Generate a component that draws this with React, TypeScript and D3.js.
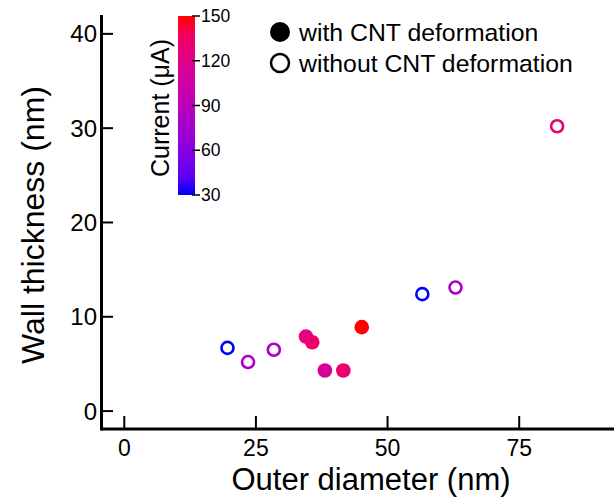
import React from 'react';
import * as d3 from 'd3';

// points with CNT deformation (filled)
const withDiameter = [34.5, 35.7, 38.1, 41.6, 45.1];
const withThickness = [7.9, 7.3, 4.3, 4.3, 8.9];
const withCurrent = [124, 133, 112, 132, 150];

// points without CNT deformation (open)
const withoutDiameter = [19.6, 23.5, 28.4, 56.6, 62.9, 82.2];
const withoutThickness = [6.7, 5.2, 6.5, 12.4, 13.1, 30.2];
const withoutCurrent = [30, 80, 80, 30, 82, 130];

const xTicks = [0, 25, 50, 75];
const yTicks = [0, 10, 20, 30, 40];
const cTicks = [30, 60, 90, 120, 150];
const legendLabels = ['with CNT deformation', 'without CNT deformation'];

const W = 614;
const H = 498;
const font = '"Liberation Sans", Arial, Helvetica, sans-serif';

const App = () => {
  const x = d3.scaleLinear().domain([-4.42, 93]).range([101, 614]);
  const y = d3.scaleLinear().domain([-1.9, 42]).range([429, 15]);
  const cy = d3.scaleLinear().domain([30, 150]).range([195, 16]);
  const color = d3
    .scaleLinear<string>()
    .domain([30, 150])
    .range(['blue', 'red'])
    .interpolate(d3.interpolateRgb.gamma(2.2));

  const withPts = withDiameter.map((d, i) => ({ d, t: withThickness[i], c: withCurrent[i] }));
  const withoutPts = withoutDiameter.map((d, i) => ({ d, t: withoutThickness[i], c: withoutCurrent[i] }));

  const stops = d3.range(0, 1.0001, 0.1);
  const [x0, x1] = x.range();
  const [y0, y1] = y.range();

  return (
    <svg
      width={W}
      height={H}
      style={{ position: 'absolute', left: 0, top: 0, background: '#fff' }}
      fontFamily={font}
    >
      <defs>
        <linearGradient id="cbar" x1="0" y1="1" x2="0" y2="0">
          {stops.map((s) => (
            <stop key={s} offset={s} stopColor={color(30 + s * 120)} />
          ))}
        </linearGradient>
      </defs>

      {/* axes */}
      <line x1={x0} x2={x1} y1={y0} y2={y0} stroke="#000" strokeWidth={3} />
      <line x1={x0 + 0.5} x2={x0 + 0.5} y1={y1} y2={y0 + 1.5} stroke="#000" strokeWidth={3} />

      {xTicks.map((t) => (
        <g key={t}>
          <line x1={x(t)} x2={x(t)} y1={y0} y2={y0 - 13} stroke="#000" strokeWidth={2} />
          <text x={x(t)} y={456} fontSize={23} textAnchor="middle">
            {t}
          </text>
        </g>
      ))}
      {yTicks.map((t) => (
        <g key={t}>
          <line x1={x0} x2={x0 + 12} y1={y(t)} y2={y(t)} stroke="#000" strokeWidth={2} />
          <text x={97} y={y(t) + 8.5} fontSize={24} textAnchor="end">
            {t}
          </text>
        </g>
      ))}

      <text x={371} y={490} fontSize={31} textAnchor="middle">
        Outer diameter (nm)
      </text>
      <text transform={`translate(44,225) rotate(-90)`} fontSize={32} textAnchor="middle">
        Wall thickness (nm)
      </text>

      {/* points */}
      {withoutPts.map((p, i) => (
        <circle key={'o' + i} cx={x(p.d)} cy={y(p.t)} r={6} fill="none" stroke={color(p.c)} strokeWidth={2.6} />
      ))}
      {withPts.map((p, i) => (
        <circle key={'f' + i} cx={x(p.d)} cy={y(p.t)} r={7.3} fill={color(p.c)} />
      ))}

      {/* colorbar */}
      <rect x={178} y={cy(150)} width={17} height={cy(30) - cy(150)} fill="url(#cbar)" />
      {cTicks.map((t) => (
        <g key={t}>
          <line x1={192} x2={200} y1={cy(t)} y2={cy(t)} stroke="#000" strokeWidth={1.5} />
          <text x={201} y={cy(t) + 6} fontSize={17.5}>
            {t}
          </text>
        </g>
      ))}
      <text transform={`translate(169,108) rotate(-90)`} fontSize={25} textAnchor="middle">
        Current (μA)
      </text>

      {/* legend */}
      <circle cx={280} cy={32} r={10} fill="#000" />
      <circle cx={280} cy={63} r={9} fill="none" stroke="#000" strokeWidth={2.5} />
      <text x={299} y={41} fontSize={24.8}>
        {legendLabels[0]}
      </text>
      <text x={299} y={72} fontSize={24.8}>
        {legendLabels[1]}
      </text>
    </svg>
  );
};

export default App;
